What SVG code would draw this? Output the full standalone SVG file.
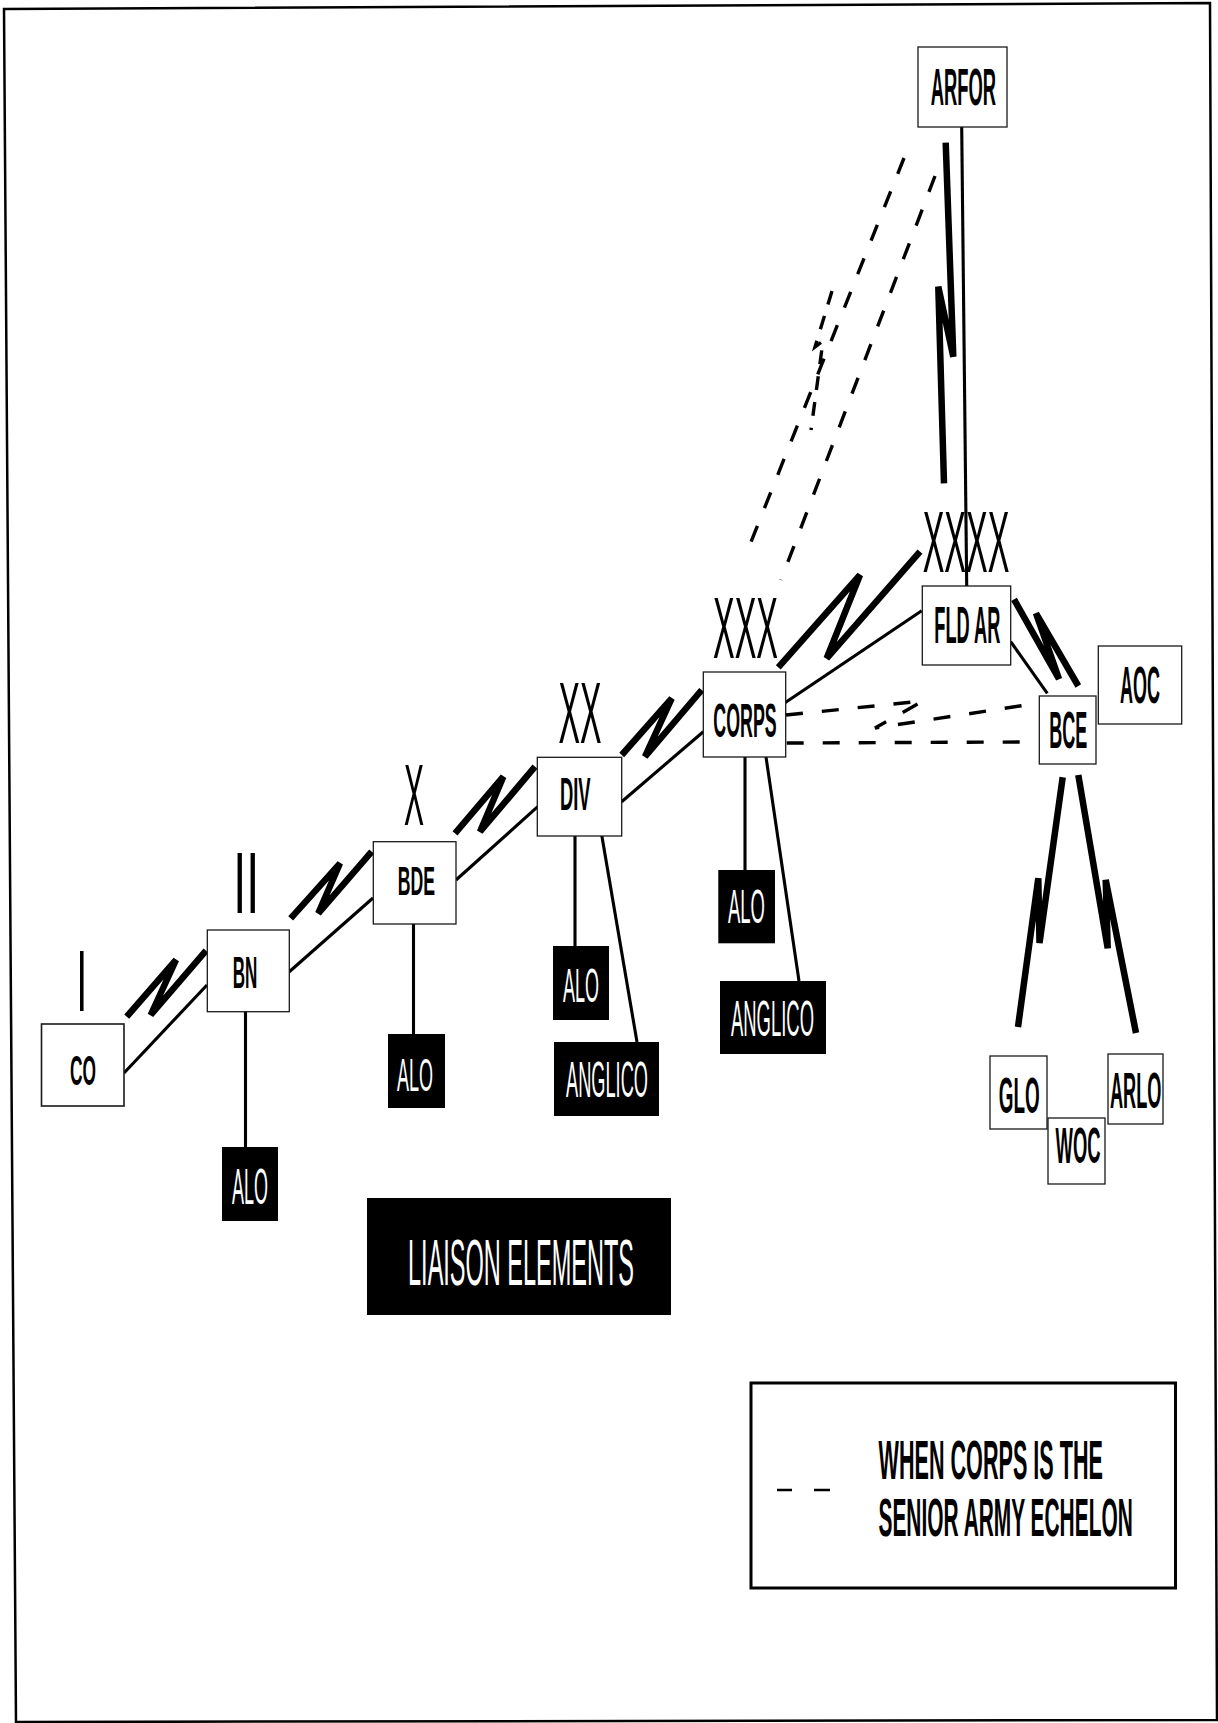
<svg xmlns="http://www.w3.org/2000/svg" width="1218" height="1723" viewBox="0 0 1218 1723">
<style>
.box{fill:#fff;stroke:#1a1a1a;stroke-width:1.3}
.blk{fill:#000}
.t{font-family:"Liberation Sans",Arial,sans-serif;font-weight:bold;text-anchor:middle;fill:#000}
.ts{font-family:"Liberation Sans",Arial,sans-serif;font-weight:bold;text-anchor:start;fill:#000}
.w{font-family:"Liberation Sans",Arial,sans-serif;text-anchor:middle;fill:#fff}
.r{font-family:"Liberation Sans",Arial,sans-serif;text-anchor:middle;fill:#000}
.thin{stroke:#000;stroke-width:3.1;fill:none}
.thick{stroke:#000;stroke-width:6.5;fill:none;stroke-linejoin:miter;stroke-miterlimit:5}
.dash{stroke:#000;stroke-width:3.4;fill:none;stroke-dasharray:17 19}
</style>
<rect width="1218" height="1723" fill="#fff"/>
<polygon points="4,9 1210,3 1217,1720 16,1722" fill="none" stroke="#000" stroke-width="2.5"/>
<g id="connectors">
<path class="thin" d="M124,1073 L207,985"/>
<path class="thin" d="M289,972 L373,898"/>
<path class="thin" d="M456,880 L537.7,806.7"/>
<path class="thin" d="M621.7,801.7 L703.3,731.7"/>
<path class="thin" d="M785,702.7 L921.7,610.7"/>
<path class="thin" d="M1010.7,641.7 L1047.3,693.3"/>
<path class="thin" d="M961.7,127 L966.7,586"/>
<path class="thin" d="M245.5,1012 L245.5,1147"/>
<path class="thin" d="M413.5,924 L413.5,1034"/>
<path class="thin" d="M575,836 L575,946"/>
<path class="thin" d="M601.7,835 L637,1042"/>
<path class="thin" d="M745,757 L745,870"/>
<path class="thin" d="M766,757 L799,981"/>
<path class="thick" d="M126.7,1016.7 L176,960 L150.7,1015 L206,950.7"/>
<path class="thick" d="M290.7,918.3 L340,863.3 L318.3,913.3 L371.7,851.7"/>
<path class="thick" d="M455,833.3 L503.3,776.7 L480,831.7 L535,766.7"/>
<path class="thick" d="M621.7,755 L671.7,698.3 L645,756.7 L701.7,690"/>
<path class="thick" d="M778.3,667.3 L860,575 L826.7,658.3 L920,551.7"/>
<path class="thick" d="M945.7,142.7 L953.3,356.7 L938.3,286.7 L944,483.3"/>
<path class="thick" d="M1014,599.3 L1059,679 L1036,613.3 L1078.3,686"/>
<path class="thick" d="M1062.7,777.3 L1039.5,943 L1038.3,878.3 L1018,1027"/>
<path class="thick" d="M1078.3,775 L1107.7,948.3 L1105.7,880 L1136,1033"/>
<path class="dash" d="M904,158 L745,557"/>
<path class="dash" d="M935,176 L781,580"/>
<path class="dash" d="M832,291 L815,347 L823,341 L811,430" style="stroke-dasharray:14 12"/>
<path class="dash" d="M786,715 L923,701 L875,728 L1033,704"/>
<path class="dash" d="M786.7,743 L1025,742"/>
</g>
<g id="node-arfor">
<rect class="box" x="918" y="47" width="89" height="80"/>
<text class="t" font-size="18.37" transform="translate(963.3,105) scale(1,2.776)">ARFOR</text>
</g>
<g id="node-fldar">
<text class="r" font-size="32.46" transform="translate(966,571.7) scale(1,2.711)">XXXX</text>
<rect class="box" x="922.3" y="586" width="88.4" height="79"/>
<text class="t" font-size="18.19" transform="translate(967.3,643.3) scale(1,2.804)">FLD AR</text>
</g>
<g id="node-corps">
<text class="r" font-size="32.48" transform="translate(745.5,658) scale(1,2.709)">XXX</text>
<rect class="box" x="703.3" y="672" width="82.4" height="85"/>
<text class="t" font-size="17.8" transform="translate(745,736.7) scale(1,2.753)">CORPS</text>
</g>
<g id="node-div">
<text class="r" font-size="32.23" transform="translate(580,743) scale(1,2.73)">XX</text>
<rect class="box" x="537.3" y="757.3" width="84.4" height="78.7"/>
<text class="t" font-size="18.42" transform="translate(575.3,810) scale(1,2.497)">DIV</text>
</g>
<g id="node-bde">
<text class="r" font-size="30" transform="translate(414,825) scale(1,2.933)">X</text>
<rect class="box" x="373.3" y="841.7" width="82.7" height="82.3"/>
<text class="t" font-size="17.67" transform="translate(416.3,895) scale(1,2.264)">BDE</text>
</g>
<g id="node-bn">
<text class="r" font-size="46.76" transform="translate(246.3,913) scale(1,1.861)">II</text>
<rect class="box" x="207.3" y="930" width="82" height="81.7"/>
<text class="t" font-size="17.04" transform="translate(245,988.3) scale(1,2.582)">BN</text>
</g>
<g id="node-co">
<text class="r" font-size="38.13" transform="translate(81.7,1011) scale(1,2.282)">I</text>
<rect class="box" x="41.5" y="1024" width="82.5" height="82" style="stroke-width:1.6"/>
<text class="t" font-size="17.33" transform="translate(83,1085) scale(1,2.423)">CO</text>
</g>
<g id="node-bce">
<rect class="box" x="1039.3" y="696" width="56.7" height="68"/>
<text class="t" font-size="18" transform="translate(1068.3,748.3) scale(1,2.833)">BCE</text>
</g>
<g id="node-aoc">
<rect class="box" x="1098.3" y="646" width="83.4" height="78"/>
<text class="t" font-size="18" transform="translate(1140,703.3) scale(1,2.833)">AOC</text>
</g>
<g id="node-glo">
<rect class="box" x="990" y="1056" width="57" height="73"/>
<text class="t" font-size="18.92" transform="translate(1019.2,1112.7) scale(1,2.643)">GLO</text>
</g>
<g id="node-woc">
<rect class="box" x="1048" y="1118" width="57" height="66"/>
<text class="t" font-size="18.41" transform="translate(1078,1163) scale(1,2.716)">WOC</text>
</g>
<g id="node-arlo">
<rect class="box" x="1108" y="1054" width="55" height="70"/>
<text class="t" font-size="18.18" transform="translate(1135.7,1108) scale(1,2.75)">ARLO</text>
</g>
<g id="node-alo-bn">
<rect class="blk" x="222" y="1147" width="56" height="74"/>
<text class="w" font-size="17.99" transform="translate(250,1204) scale(1,2.779)">ALO</text>
</g>
<g id="node-alo-bde">
<rect class="blk" x="388" y="1034" width="57" height="74"/>
<text class="w" font-size="18" transform="translate(415,1091) scale(1,2.556)">ALO</text>
</g>
<g id="node-alo-div">
<rect class="blk" x="553" y="946" width="56" height="74"/>
<text class="w" font-size="18" transform="translate(581,1002) scale(1,2.722)">ALO</text>
</g>
<g id="node-anglico-div">
<rect class="blk" x="554" y="1042" width="105" height="74"/>
<text class="w" font-size="18.22" transform="translate(607,1097) scale(1,2.744)">ANGLICO</text>
</g>
<g id="node-alo-corps">
<rect class="blk" x="718.3" y="870" width="56.7" height="73.3"/>
<text class="w" font-size="18.49" transform="translate(746.5,923) scale(1,2.65)">ALO</text>
</g>
<g id="node-anglico-corps">
<rect class="blk" x="720" y="981" width="106" height="73"/>
<text class="w" font-size="18.44" transform="translate(772.5,1036) scale(1,2.711)">ANGLICO</text>
</g>
<g id="title-liaison">
<rect class="blk" x="367" y="1198" width="304" height="117"/>
<text class="w" font-size="23.51" transform="translate(521,1284.5) scale(1,2.765)">LIAISON ELEMENTS</text>
</g>
<g id="legend">
<rect x="751" y="1383" width="424.5" height="205" fill="none" stroke="#000" stroke-width="3"/>
<path d="M777,1490 L792,1490 M814,1490 L830,1490" stroke="#000" stroke-width="2.5"/>
<text class="ts" font-size="21.61" transform="translate(878.5,1479) scale(1,2.591)">WHEN CORPS IS THE</text>
<text class="ts" font-size="20.9" transform="translate(878.5,1535.6) scale(1,2.584)">SENIOR ARMY ECHELON</text>
</g>
</svg>
